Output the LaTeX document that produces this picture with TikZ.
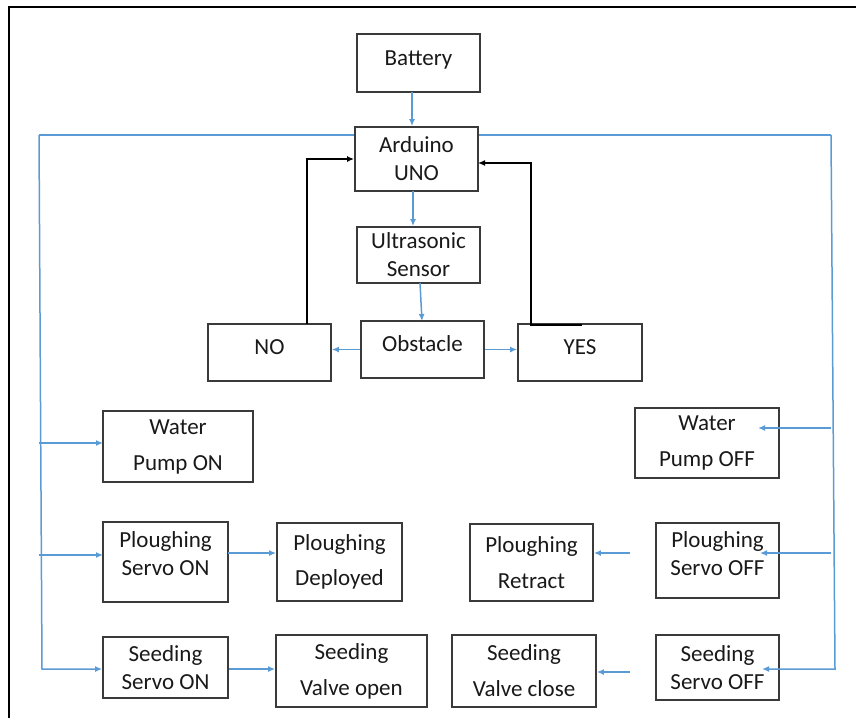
\documentclass[tikz,border=0pt]{standalone}
\usepackage{fontspec}
\setmainfont{Carlito}
\usetikzlibrary{arrows.meta}
\definecolor{bl}{HTML}{5B9BD5}
\definecolor{bx}{HTML}{3A3A3A}
\newcommand{\liftup}[2]{\raisebox{#1}[\height][\depth]{#2}}
\newcommand{\twol}[2]{\begin{tabular}{@{}c@{}}#1\\#2\end{tabular}}
\begin{document}
\begin{tikzpicture}[x=1pt,y=-1pt,
  box/.style={draw=bx,line width=1.8pt,inner sep=0pt,align=center,text=black!90,
    font=\fontsize{23}{28}\selectfont},
  bus/.style={draw=bl,line width=1.5pt},
  barrow/.style={bus,-{Latex[length=7pt,width=6pt]}},
  karrow/.style={draw=black,line width=1.6pt,-{Latex[length=7pt,width=6pt]}}]
\useasboundingbox (0,0) rectangle (856,718);
\draw[line width=2.5pt] (9,718) -- (9,7) -- (856,7);

% nodes
\node[box,minimum width=123,minimum height=58] (bat) at (418.5,63) {\liftup{3pt}{Battery}};
\node[box,minimum width=123,minimum height=64] (ard) at (416.5,159) {Arduino\\UNO};
\node[box,minimum width=123,minimum height=56] (us) at (418.5,255) {Ultrasonic\\Sensor};
\node[box,minimum width=123,minimum height=57] (obs) at (422.5,349.5) {\liftup{6pt}{Obstacle}};
\node[box,minimum width=123,minimum height=57] (no) at (269.5,352.5) {\liftup{5pt}{NO}};
\node[box,minimum width=124,minimum height=57] (yes) at (580,352.5) {\liftup{5pt}{YES}};

\node[box,minimum width=150,minimum height=71] (wpon) at (178,446.5) {Water\\[8pt]Pump ON};
\node[box,minimum width=125,minimum height=80] (pson) at (165.5,562) {\liftup{6pt}{\twol{Ploughing}{Servo ON}}};
\node[box,minimum width=125,minimum height=78] (dep) at (339.5,562) {Ploughing\\[7pt]Deployed};
\node[box,minimum width=125,minimum height=61] (sson) at (165.5,667.5) {Seeding\\Servo ON};
\node[box,minimum width=151,minimum height=72] (vo) at (351.5,671) {Seeding\\[8pt]Valve open};

\node[box,minimum width=144,minimum height=70] (wpoff) at (707,443) {Water\\[8pt]Pump OFF};
\node[box,minimum width=123,minimum height=77] (ret) at (531.5,562.5) {Ploughing\\[8pt]Retract};
\node[box,minimum width=123,minimum height=75] (psoff) at (717.5,560.5) {\liftup{5pt}{\twol{Ploughing}{Servo OFF}}};
\node[box,minimum width=144,minimum height=72] (vc) at (524,671) {Seeding\\[8pt]Valve close};
\node[box,minimum width=123,minimum height=65] (ssoff) at (717.5,667.5) {Seeding\\Servo OFF};

% coordinates
\coordinate (lt) at (39,135);
\coordinate (lb) at (42,669);
\coordinate (rt) at (831,135);
\coordinate (rb) at (835,669);
\coordinate (wpoffin) at (758,428);
\coordinate (psoffin) at (760,553);
\coordinate (ssoffin) at (762,669);
\coordinate (retfrom) at (630,553);
\coordinate (vcfrom) at (630,672);
\coordinate (batout) at (412,92);
\coordinate (ardout) at (413,191);
\coordinate (usout) at (420,283);
\coordinate (obsin) at (422,321);
\coordinate (psonr) at (228,553);
\coordinate (psonl) at (103,555);
\coordinate (wponl) at (103,443);
\coordinate (nox) at (307,324);
\coordinate (yesx) at (531,325);
\coordinate (yesstub) at (582,325);
\coordinate (ardr) at (478,163);

% vertical flow
\draw[barrow] (batout) -- (batout |- ard.north);
\draw[barrow] (ardout) -- (ardout |- us.north);
\draw[barrow] (usout) -- (obsin);
\draw[barrow] (obs.west) -- (obs.west -| no.east);
\draw[barrow] (obs.east) -- (obs.east -| yes.west);

% feedback
\draw[karrow] (nox) |- (ard.west);
\draw[karrow] (yesstub) -- (yesx) |- (ardr);

% left bus
\draw[bus] (ard.west |- lt) -- (lt);
\draw[barrow] (lt) -- (lb) -- (lb -| sson.west);
\draw[barrow] (lt |- wponl) -- (wponl);
\draw[barrow] (lt |- psonl) -- (psonl);
\draw[barrow] (psonr) -- (psonr -| dep.west);
\draw[barrow] (sson.east |- lb) -- (lb -| vo.west);

% right bus
\draw[bus] (ard.east |- rt) -- (rt);
\draw[barrow] (rt) -- (rb) -- (ssoffin);
\draw[barrow] (rt |- wpoffin) -- (wpoffin);
\draw[barrow] (rt |- psoffin) -- (psoffin);
\draw[barrow] (retfrom) -- (retfrom -| ret.east);
\draw[barrow] (vcfrom) -- (vcfrom -| vc.east);
\end{tikzpicture}
\end{document}
